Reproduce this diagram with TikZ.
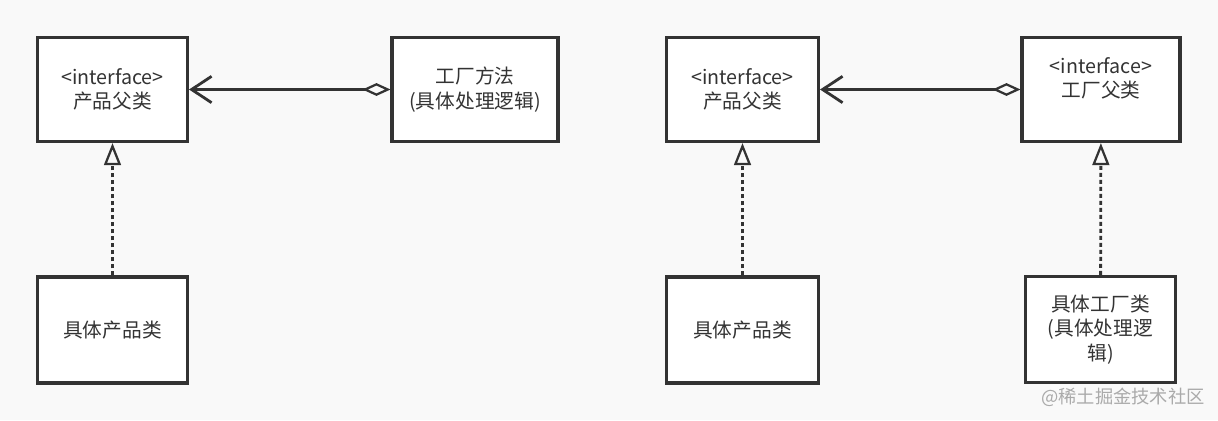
\documentclass[tikz,border=0pt]{standalone}
\usepackage{fontspec}
\setmainfont{Noto Sans CJK SC}
\usetikzlibrary{arrows.meta}
\definecolor{linegray}{HTML}{333333}
\definecolor{bggray}{HTML}{F9F9F9}
\definecolor{markgray}{HTML}{AAAAAA}
\begin{document}
\begin{tikzpicture}[
  cls/.style={draw=linegray, line width=2.2pt, fill=white, text=linegray,
    minimum width=3.75cm, minimum height=2.6cm, align=center,
    font=\fontsize{14pt}{17.5pt}\selectfont},
  assoc/.style={draw=linegray, line width=2pt,
    {Straight Barb[length=0.5cm, width=0.66cm, line width=2pt]}-{Diamond[open, length=0.7cm, width=0.32cm, line width=1.6pt]}},
  realize/.style={draw=linegray, line width=2pt, dash pattern=on 0.1cm off 0.075cm,
    -{Triangle[open, length=0.55cm, width=0.42cm, line width=1.6pt]}}
]
\fill[bggray] (0,0) rectangle (30.45,-10.5);
\useasboundingbox (0,0) rectangle (30.45,-10.5);

% left: factory method
\node[cls] (prodL) at (2.8125,-2.2375) {<interface>\\产品父类};
\node[cls, minimum width=4.15cm] (method) at (11.875,-2.2375) {工厂方法\\(具体处理逻辑)};
\node[cls, minimum height=2.65cm] (concL) at (2.8125,-8.25) {具体产品类};

\draw[assoc] (prodL) -- (method);
\draw[realize] (concL) -- (prodL);

% right: abstract factory
\node[cls, minimum width=3.8cm] (prodR) at (18.5625,-2.2375) {<interface>\\产品父类};
\node[cls, minimum width=3.95cm, text depth=0.6cm] (factory) at (27.525,-2.2375) {<interface>\\工厂父类};
\node[cls, minimum width=3.8cm, minimum height=2.65cm] (concR) at (18.5625,-8.25) {具体产品类};
\node[cls, minimum height=2.65cm] (concF) at (27.5125,-8.2375) {具体工厂类\\(具体处理逻\\辑)};

\draw[assoc] (prodR) -- (factory);
\draw[realize] (concR) -- (prodR);
\draw[realize] (concF) -- (factory);

\node[text=markgray, font=\fontsize{13pt}{15pt}\selectfont] (mark) at (28.075,-9.925) {@稀土掘金技术社区};
\end{tikzpicture}
\end{document}
